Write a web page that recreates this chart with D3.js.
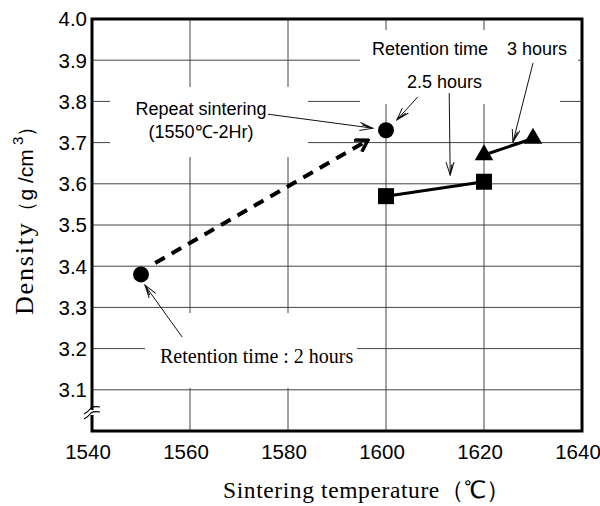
<!DOCTYPE html>
<html>
<head>
<meta charset="utf-8">
<script src="https://cdn.jsdelivr.net/npm/d3@7"></script>
<style>
	body { margin: 0; background: #fff; }
	svg { display: block; }
	.sans { font-family: "Liberation Sans", Arial, sans-serif; }
	.serif { font-family: "Liberation Serif", "Times New Roman", serif; }
</style>
</head>
<body>
<div id="chart"></div>
<script>
var xTicks = [1540, 1560, 1580, 1600, 1620, 1640];
var yTicks = [3.1, 3.2, 3.3, 3.4, 3.5, 3.6, 3.7, 3.8, 3.9, 4.0];

// 2 hours, then repeat sintering
var circleTemp = [1550, 1600];
var circleDensity = [3.38, 3.73];
// 2.5 hours
var squareTemp = [1600, 1620];
var squareDensity = [3.57, 3.605];
// 3 hours
var triangleTemp = [1620, 1630];
var triangleDensity = [3.67, 3.71];

// dashed arrow, from the 2 hour point to the repeat sintering point
var dashTemp = [1552.9, 1596.3];
var dashDensity = [3.408, 3.706];

// thin callout arrows [fromTemp, fromDensity, toTemp, toDensity]
var callouts = [
	[1575.9, 3.769, 1597.3, 3.735],
	[1606.5, 3.811, 1602.2, 3.755],
	[1612.9, 3.820, 1613.1, 3.621],
	[1630.0, 3.893, 1625.9, 3.701],
	[1558.4, 3.228, 1550.8, 3.354]
];

var width = 600, height = 506;
var x = d3.scaleLinear().domain([1540, 1640]).range([92, 582]);
var y = d3.scaleLinear().domain([3.0, 4.0]).range([431, 19]);

var svg = d3.select('#chart')
	.append('svg')
	.attr('width', width)
	.attr('height', height);

var defs = svg.append('defs');
defs.append('marker')
	.attr('id', 'vee')
	.attr('viewBox', '0 0 14 10')
	.attr('refX', 13)
	.attr('refY', 5)
	.attr('markerUnits', 'userSpaceOnUse')
	.attr('markerWidth', 14)
	.attr('markerHeight', 10)
	.attr('orient', 'auto')
	.append('path')
		.attr('d', 'M 0 1 L 13 5 L 0 9 M 2 3 L 11 5')
		.attr('fill', 'none')
		.attr('stroke', '#111')
		.attr('stroke-width', 1);
defs.append('marker')
	.attr('id', 'bold')
	.attr('viewBox', '0 0 16 16')
	.attr('refX', 14)
	.attr('refY', 8)
	.attr('markerUnits', 'userSpaceOnUse')
	.attr('markerWidth', 16)
	.attr('markerHeight', 16)
	.attr('orient', 'auto')
	.append('path')
		.attr('d', 'M 2 1 L 14 8 L 3 15')
		.attr('fill', 'none')
		.attr('stroke', '#000')
		.attr('stroke-width', 3.5);

// grid
var grid = svg.append('g')
	.attr('stroke', '#444')
	.attr('stroke-width', 1);
grid.selectAll('line.v')
	.data(xTicks.slice(1, -1))
	.enter().append('line')
	.attr('class', 'v')
	.attr('x1', function(d){ return x(d); })
	.attr('x2', function(d){ return x(d); })
	.attr('y1', y(4.0))
	.attr('y2', y(3.0));
grid.selectAll('line.h')
	.data(yTicks.slice(0, -1))
	.enter().append('line')
	.attr('class', 'h')
	.attr('x1', x(1540))
	.attr('x2', x(1640))
	.attr('y1', function(d){ return y(d); })
	.attr('y2', function(d){ return y(d); });

// the grid is cut where the notes sit
var gaps = [
	[110, 87, 198, 70],
	[360, 30, 200, 74],
	[560, 30, 18, 45],
	[145, 313, 212, 75]
];
svg.selectAll('rect.gap')
	.data(gaps)
	.enter().append('rect')
	.attr('class', 'gap')
	.attr('x', function(d){ return d[0]; })
	.attr('y', function(d){ return d[1]; })
	.attr('width', function(d){ return d[2]; })
	.attr('height', function(d){ return d[3]; })
	.attr('fill', '#fff');

// frame
svg.append('rect')
	.attr('x', x(1540))
	.attr('y', y(4.0))
	.attr('width', x(1640) - x(1540))
	.attr('height', y(3.0) - y(4.0))
	.attr('fill', 'none')
	.attr('stroke', '#000')
	.attr('stroke-width', 3);

// axis break
svg.append('rect')
	.attr('x', x(1540) - 3)
	.attr('y', 410)
	.attr('width', 6)
	.attr('height', 5)
	.attr('fill', '#fff');
svg.append('path')
	.attr('d', 'M 84 414 q 4 -2 7 -6 q 3 -2 9 -1 M 84 419 q 4 -2 7 -6 q 3 -2 9 -1')
	.attr('fill', 'none')
	.attr('stroke', '#000')
	.attr('stroke-width', 1.2);

// tick labels
svg.append('g').selectAll('text')
	.data(yTicks)
	.enter().append('text')
	.attr('class', 'sans')
	.attr('x', x(1540) - 5)
	.attr('y', function(d){ return y(d); })
	.attr('dy', '0.36em')
	.attr('text-anchor', 'end')
	.attr('font-size', 20.5)
	.text(function(d){ return d3.format('.1f')(d); });
svg.append('g').selectAll('text')
	.data(xTicks)
	.enter().append('text')
	.attr('class', 'sans')
	.attr('x', function(d){ return x(d) - 4; })
	.attr('y', 459)
	.attr('text-anchor', 'middle')
	.attr('font-size', 20.5)
	.text(function(d){ return d; });

// axis titles
var xt = svg.append('text')
	.attr('x', 223)
	.attr('y', 498)
	.attr('font-size', 23.5);
xt.append('tspan').attr('class', 'serif').attr('letter-spacing', 0.6).text('Sintering temperature');
xt.append('tspan').attr('class', 'serif').text('（℃）');

var yt = svg.append('text')
	.attr('transform', 'translate(33,315) rotate(-90)');
yt.append('tspan').attr('class', 'serif').attr('font-size', 26).attr('letter-spacing', 1.8).text('Density');
yt.append('tspan').attr('class', 'sans').attr('font-size', 21).text('（g /cm');
yt.append('tspan').attr('class', 'sans').attr('font-size', 15).attr('dy', -10).text(' 3');
yt.append('tspan').attr('class', 'sans').attr('font-size', 21).attr('dy', 10).text('）');

// notes
var notes = svg.append('g').attr('class', 'sans').attr('font-size', 18).attr('fill', '#000');
notes.append('text').attr('x', 201).attr('y', 115).attr('text-anchor', 'middle').text('Repeat sintering');
notes.append('text').attr('x', 201).attr('y', 138).attr('text-anchor', 'middle').text('(1550℃-2Hr)');
notes.append('text').attr('x', 372).attr('y', 55).text('Retention time');
notes.append('text').attr('x', 507).attr('y', 55).text('3 hours');
notes.append('text').attr('x', 407).attr('y', 88).text('2.5 hours');
svg.append('text')
	.attr('class', 'serif')
	.attr('x', 160)
	.attr('y', 363)
	.attr('font-size', 20)
	.text('Retention time : 2 hours');

svg.append('g').selectAll('line')
	.data(callouts)
	.enter().append('line')
	.attr('x1', function(d){ return x(d[0]); })
	.attr('y1', function(d){ return y(d[1]); })
	.attr('x2', function(d){ return x(d[2]); })
	.attr('y2', function(d){ return y(d[3]); })
	.attr('stroke', '#111')
	.attr('stroke-width', 1)
	.attr('marker-end', 'url(#vee)');

// dashed arrow
svg.append('line')
	.attr('x1', x(dashTemp[0]))
	.attr('y1', y(dashDensity[0]))
	.attr('x2', x(dashTemp[1]))
	.attr('y2', y(dashDensity[1]))
	.attr('stroke', '#000')
	.attr('stroke-width', 4)
	.attr('stroke-dasharray', '11,8')
	.attr('marker-end', 'url(#bold)');

// series
var line = d3.line()
	.x(function(d){ return x(d[0]); })
	.y(function(d){ return y(d[1]); });
svg.append('path')
	.datum(d3.zip(squareTemp, squareDensity))
	.attr('d', line)
	.attr('fill', 'none')
	.attr('stroke', '#000')
	.attr('stroke-width', 3);
svg.append('path')
	.datum(d3.zip(triangleTemp, triangleDensity))
	.attr('d', line)
	.attr('fill', 'none')
	.attr('stroke', '#000')
	.attr('stroke-width', 3);

svg.append('g').selectAll('circle')
	.data(d3.zip(circleTemp, circleDensity))
	.enter().append('circle')
	.attr('cx', function(d){ return x(d[0]); })
	.attr('cy', function(d){ return y(d[1]); })
	.attr('r', 8)
	.attr('fill', '#000');
svg.append('g').selectAll('path')
	.data(d3.zip(squareTemp, squareDensity))
	.enter().append('path')
	.attr('transform', function(d){ return 'translate(' + x(d[0]) + ',' + y(d[1]) + ')'; })
	.attr('d', d3.symbol().type(d3.symbolSquare).size(256))
	.attr('fill', '#000');
svg.append('g').selectAll('path')
	.data(d3.zip(triangleTemp, triangleDensity))
	.enter().append('path')
	.attr('transform', function(d){ return 'translate(' + x(d[0]) + ',' + y(d[1]) + ')'; })
	.attr('d', d3.symbol().type(d3.symbolTriangle).size(150))
	.attr('fill', '#000');
</script>
</body>
</html>
